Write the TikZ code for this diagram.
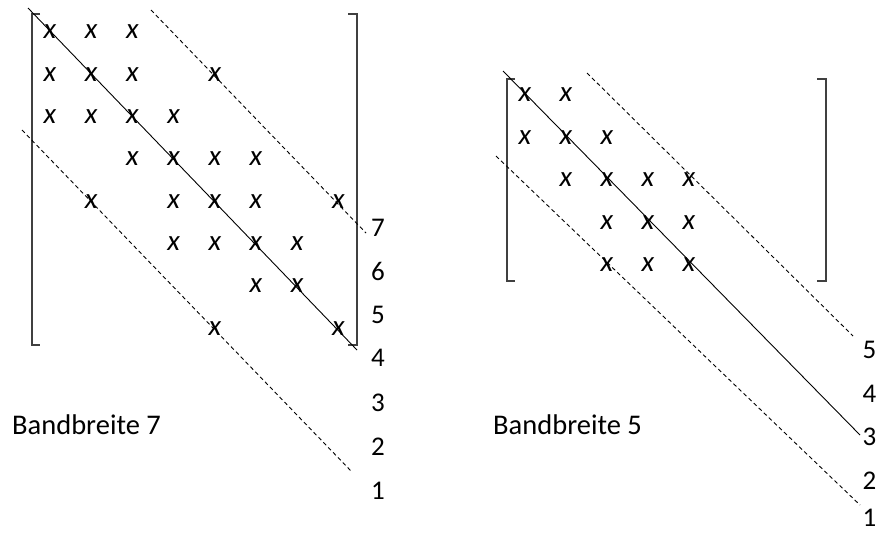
\documentclass[tikz,border=0pt]{standalone}
\usepackage{fontspec}
\setmainfont{Carlito}
\begin{document}
\begin{tikzpicture}[x=1pt,y=-1pt,
  entry/.style={font=\fontsize{29}{29}\selectfont\itshape, inner sep=0pt},
  lbl/.style={font=\fontsize{27}{27}\selectfont, inner sep=0pt},
  title/.style={font=\fontsize{28.5}{28.5}\selectfont, inner sep=0pt, anchor=base west},
  band/.style={line width=0.9pt},
  bandd/.style={line width=0.9pt, dash pattern=on 4pt off 3pt},
  brk/.style={line width=1.3pt, color=black!75}]
\useasboundingbox (0,0) rectangle (877,533);

% ---------- left matrix ----------
\draw[brk] (40,14) -- (32,14) -- (32,345) -- (40,345);
\draw[brk] (348,14) -- (357,14) -- (357,345) -- (348,345);
\foreach \r/\c in {1/1,1/2,1/3,2/1,2/2,2/3,2/5,3/1,3/2,3/3,3/4,4/3,4/4,4/5,4/6,
                   5/2,5/4,5/5,5/6,5/8,6/4,6/5,6/6,6/7,7/6,7/7,8/5,8/8}{
  \node[entry] (L-\r-\c) at ({50+41.2*(\c-1)},{32+42.3*(\r-1)}) {x};
}
\coordinate (LsA) at (28,8);
\coordinate (LsB) at (357,350);
\coordinate (LuA) at (151,10);
\coordinate (LuB) at (366,233);
\coordinate (LlA) at (22,130);
\coordinate (LlB) at (352,472);
\draw[band] (LsA) -- (LsB);
\draw[bandd] (LuA) -- (LuB);
\draw[bandd] (LlA) -- (LlB);
\foreach \n/\y in {7/228,6/271,5/315,4/358,3/403,2/447,1/491}{
  \node[lbl] (LN\n) at (378,\y) {\n};
}
\node[title] (LT) at (12,434) {Bandbreite 7};

% ---------- right matrix ----------
\draw[brk] (515,79) -- (507,79) -- (507,281) -- (515,281);
\draw[brk] (817,79) -- (826,79) -- (826,281) -- (817,281);
\foreach \r/\c in {1/1,1/2,2/1,2/2,2/3,3/2,3/3,3/4,3/5,4/3,4/4,4/5,5/3,5/4,5/5}{
  \node[entry] (R-\r-\c) at ({525+41*(\c-1)},{95+42.5*(\r-1)}) {x};
}
\coordinate (RsA) at (503,71);
\coordinate (RsB) at (860,435);
\coordinate (RuA) at (587,73);
\coordinate (RuB) at (853,336);
\coordinate (RlA) at (496,156);
\coordinate (RlB) at (860,505);
\draw[band] (RsA) -- (RsB);
\draw[bandd] (RuA) -- (RuB);
\draw[bandd] (RlA) -- (RlB);
\foreach \n/\y in {5/350,4/394,3/437,2/481,1/518}{
  \node[lbl] (RN\n) at (869.5,\y) {\n};
}
\node[title] (RT) at (493,434) {Bandbreite 5};
\end{tikzpicture}
\end{document}
